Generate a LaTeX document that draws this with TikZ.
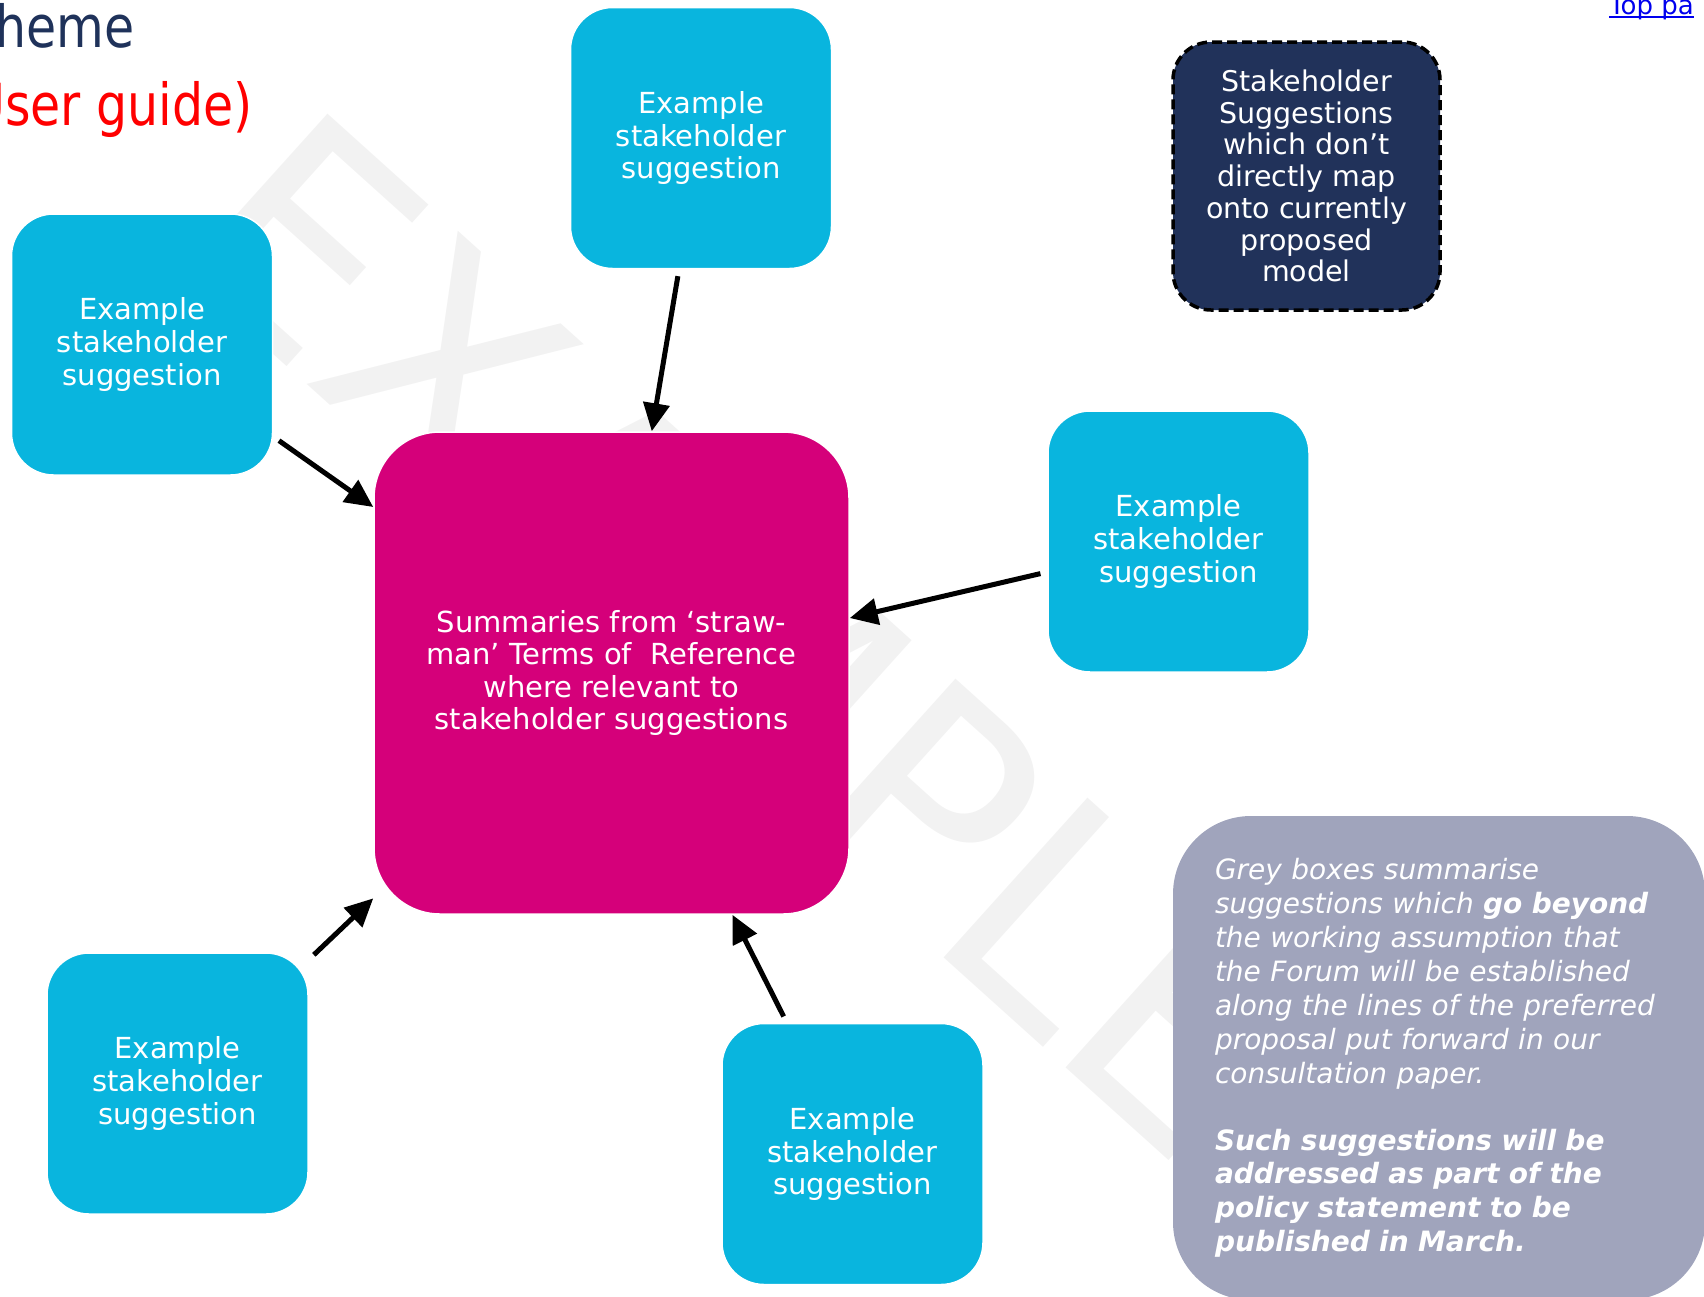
\documentclass[tikz,border=0pt]{standalone}
\usepackage{fontspec}
\setmainfont{DejaVu Sans}
\newfontfamily\headfont[FakeStretch=0.845]{DejaVu Sans}
\usetikzlibrary{arrows.meta}

\definecolor{ideacyan}{RGB}{9,181,222}
\definecolor{summarypink}{RGB}{213,0,122}
\definecolor{modelnavy}{RGB}{33,50,90}
\definecolor{notegrey}{RGB}{160,164,188}
\definecolor{headnavy}{RGB}{31,50,90}
\definecolor{linkblue}{RGB}{0,0,238}
\definecolor{markgrey}{RGB}{242,242,242}

\begin{document}
\begin{tikzpicture}[%
        x=1pt, y=-1pt,
        every node/.style={inner sep=0pt},
        idea/.style={rectangle, rounded corners=42pt, fill=ideacyan, draw=white, line width=1.5pt,
            minimum width=261pt, minimum height=261pt, text=white, align=center,
            font=\fontsize{29}{32.6}\selectfont},
        summary/.style={rectangle, rounded corners=66pt, fill=summarypink, draw=white, line width=1.5pt,
            minimum width=475pt, minimum height=482pt, text=white, align=center,
            font=\fontsize{29}{32.6}\selectfont},
        offmodel/.style={rectangle, rounded corners=38pt, fill=modelnavy, draw=black, line width=3.5pt,
            dash pattern=on 10pt off 5pt, minimum width=267pt, minimum height=268pt,
            text=white, align=center, font=\fontsize{28.5}{31.7}\selectfont},
        note/.style={rectangle, rounded corners=78pt, fill=notegrey, minimum width=532pt,
            minimum height=484pt, text=white, text width=448pt, align=left,
            font=\itshape\fontsize{28}{33.9}\selectfont},
        feed/.style={-{Triangle[length=28pt,width=26pt]}, line width=5pt, shorten <=7pt}
    ]
    \useasboundingbox (0,0) rectangle (1704,1296);

    % --- Watermark and page heading ---
    \node[font=\fontsize{295}{300}\selectfont, text=markgrey, rotate=-42, anchor=base west]
        (mark) at (162,254) {EXAMPLE};
    \node[font=\headfont\fontsize{58}{60}\selectfont, text=headnavy, anchor=base east]
        (head) at (135,47) {heme};
    \node[font=\headfont\fontsize{58}{60}\selectfont, text=red, anchor=base east]
        (guide) at (253,125) {User guide)};
    \node[font=\fontsize{26}{28}\selectfont, text=linkblue, anchor=base west]
        (toplink) at (1609,14) {Top pa};
    \draw[linkblue, line width=2pt] ([yshift=-3pt]toplink.base west) -- ([yshift=-3pt]toplink.base east);

    % --- Central summary ---
    \node[summary] (sum) at (611.5,673)
        {Summaries from ‘straw-\\man’ Terms of~ Reference\\where relevant to\\stakeholder suggestions};

    % --- Stakeholder suggestions ---
    \node[idea] (sugTop) at (701,138) {Example\\stakeholder\\suggestion};
    \node[idea] (sugLeft) at (142,344.5) {Example\\stakeholder\\suggestion};
    \node[idea] (sugRight) at (1178.5,541.5) {Example\\stakeholder\\suggestion};
    \node[idea] (sugLowLeft) at (177.5,1083.5) {Example\\stakeholder\\suggestion};
    \node[idea] (sugLow) at (852.5,1154) {Example\\stakeholder\\suggestion};

    \draw[feed] (sugTop) -- (sum);
    \draw[feed] (sugLeft) -- (sum);
    \draw[feed] (sugRight) -- (sum);
    \draw[feed] (sugLowLeft) -- (sum);
    \draw[feed] (sugLow) -- (sum);

    % --- Outside the model ---
    \node[offmodel] (offModel) at (1306.5,176)
        {Stakeholder\\Suggestions\\which don’t\\directly map\\onto currently\\proposed\\model};

    % --- Grey note ---
    \node[note] (greyNote) at (1439,1058)
        {Grey boxes summarise\\
         suggestions which \textbf{go beyond}\\
         the working assumption that\\
         the Forum will be established\\
         along the lines of the preferred\\
         proposal put forward in our\\
         consultation paper.\\[33pt]
         \textbf{Such suggestions will be}\\
         \textbf{addressed as part of the}\\
         \textbf{policy statement to be}\\
         \textbf{published in March.}};
    \end{tikzpicture}
\end{document}
